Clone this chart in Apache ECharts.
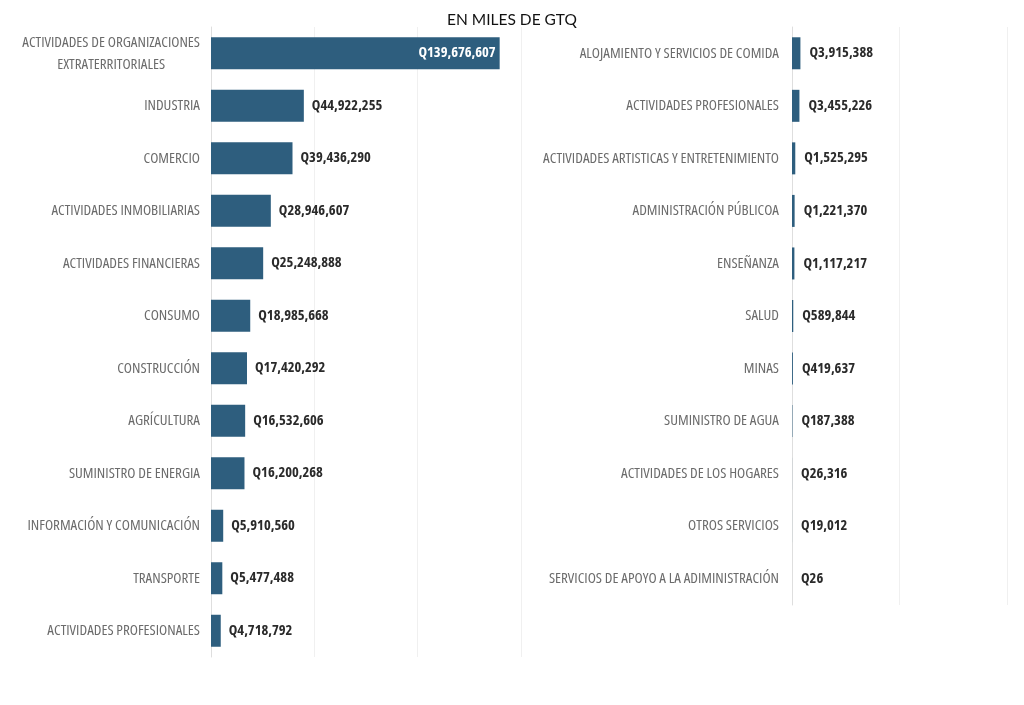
<!DOCTYPE html>
<html>
<head>
<meta charset="utf-8">
<script src="https://cdn.jsdelivr.net/npm/echarts@6/dist/echarts.min.js"></script>
<style>html,body{margin:0;padding:0;background:#fff;}#c{width:1024px;height:705px;}</style>
</head>
<body>
<div id="c"></div>
<script>
var titleText = "EN MILES DE GTQ";
var leftCategories = [
  "ACTIVIDADES DE ORGANIZACIONES\nEXTRATERRITORIALES",
  "INDUSTRIA",
  "COMERCIO",
  "ACTIVIDADES INMOBILIARIAS",
  "ACTIVIDADES FINANCIERAS",
  "CONSUMO",
  "CONSTRUCCIÓN",
  "AGRÍCULTURA",
  "SUMINISTRO DE ENERGIA",
  "INFORMACIÓN Y COMUNICACIÓN",
  "TRANSPORTE",
  "ACTIVIDADES PROFESIONALES"
];
var leftValues = [139676607, 44922255, 39436290, 28946607, 25248888, 18985668, 17420292, 16532606, 16200268, 5910560, 5477488, 4718792];
var rightCategories = [
  "ALOJAMIENTO Y SERVICIOS DE COMIDA",
  "ACTIVIDADES PROFESIONALES",
  "ACTIVIDADES ARTISTICAS Y ENTRETENIMIENTO",
  "ADMINISTRACIÓN PÚBLICOA",
  "ENSEÑANZA",
  "SALUD",
  "MINAS",
  "SUMINISTRO DE AGUA",
  "ACTIVIDADES DE LOS HOGARES",
  "OTROS SERVICIOS",
  "SERVICIOS DE APOYO A LA ADIMINISTRACIÓN"
];
var rightValues = [3915388, 3455226, 1525295, 1221370, 1117217, 589844, 419637, 187388, 26316, 19012, 26];

var FONT = '"Open Sans", sans-serif';
var BAR = '#2e5e7e';

function fmtQ(v){ return 'Q' + v.toLocaleString('en-US'); }

function catLabel(v){
  if (v.indexOf('\n') >= 0) {
    return v.split('\n').map(function(s){ return '{c|' + s + '}'; }).join('\n');
  }
  return v;
}

var chart = echarts.init(document.getElementById('c'), null, {renderer: 'canvas'});
var labelStyleCommon = {
  show: true,
  position: 'right',
  distance: 8,
  fontFamily: FONT,
  fontStyle: 'condensed',
  fontSize: 14.5,
  fontWeight: 'bold',
  color: '#2a2a2a',
  formatter: function(p){ return fmtQ(p.value); }
};
var leftData = leftValues.map(function(v, i){
  if (i === 0) {
    return {value: v, label: {position: 'insideRight', color: '#ffffff', distance: 4}};
  }
  return v;
});
var catLabelStyle = {fontFamily: FONT, fontStyle: 'condensed', fontSize: 15, color: '#6b6b6b'};

chart.setOption({
  animation: false,
  title: {
    text: titleText,
    left: 'center',
    top: 7,
    textStyle: {fontFamily: 'Lato, "Noto Sans", sans-serif', fontSize: 15.5, fontWeight: 'normal', color: '#111'}
  },
  grid: [
    {left: 211, top: 27, width: 310, height: 630, containLabel: false, outerBoundsMode: 'none'},
    {left: 792, top: 27, width: 215, height: 578, containLabel: false, outerBoundsMode: 'none'}
  ],
  xAxis: [
    {gridIndex: 0, type: 'value', min: 0, max: 150000000, interval: 50000000,
     axisLabel: {show: false}, axisLine: {show: false}, axisTick: {show: false},
     splitLine: {show: true, lineStyle: {color: '#f0f0f0', width: 1}}},
    {gridIndex: 1, type: 'value', min: 0, max: 100000000, interval: 50000000,
     axisLabel: {show: false}, axisLine: {show: false}, axisTick: {show: false},
     splitLine: {show: true, lineStyle: {color: '#f0f0f0', width: 1}}}
  ],
  yAxis: [
    {gridIndex: 0, type: 'category', data: leftCategories, inverse: true,
     axisLine: {show: true, lineStyle: {color: '#dedede'}}, axisTick: {show: false},
     axisLabel: echarts.util.merge({margin: 11, lineHeight: 22, formatter: catLabel,
       rich: {c: echarts.util.merge({align: 'center', lineHeight: 22}, catLabelStyle)}}, catLabelStyle)},
    {gridIndex: 1, type: 'category', data: rightCategories, inverse: true,
     axisLine: {show: true, lineStyle: {color: '#dedede'}}, axisTick: {show: false},
     axisLabel: echarts.util.merge({margin: 13}, catLabelStyle)}
  ],
  series: [
    {type: 'bar', xAxisIndex: 0, yAxisIndex: 0, data: leftData, barWidth: 32,
     itemStyle: {color: BAR}, label: labelStyleCommon},
    {type: 'bar', xAxisIndex: 1, yAxisIndex: 1, data: rightValues, barWidth: 32,
     itemStyle: {color: BAR}, label: echarts.util.merge({distance: 9}, labelStyleCommon)}
  ]
});
</script>
</body>
</html>
